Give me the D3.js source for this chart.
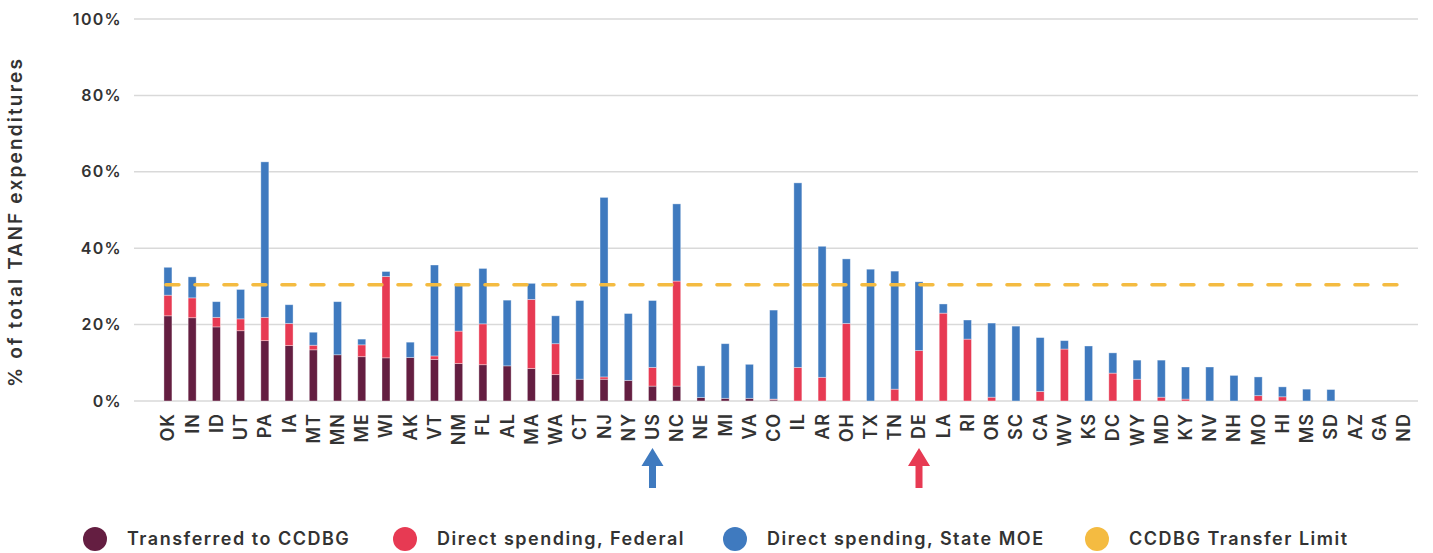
<!DOCTYPE html>
<html>
<head>
<meta charset="utf-8">
<script src="https://cdn.jsdelivr.net/npm/d3@7"></script>
<style>
  body { margin: 0; background: #fff; }
  svg { display: block; font-family: Inter, "Open Sans", sans-serif; }
</style>
</head>
<body>
<div id="chart"></div>
<script>
// categories, in chart order
var states = ["OK","IN","ID","UT","PA","IA","MT","MN","ME","WI","AK","VT","NM","FL","AL","MA","WA","CT","NJ","NY",
              "US","NC","NE","MI","VA","CO","IL","AR","OH","TX","TN","DE","LA","RI","OR","SC","CA","WV","KS","DC",
              "WY","MD","KY","NV","NH","MO","HI","MS","SD","AZ","GA","ND"];

// % of total TANF expenditures, per segment
var transferred = [22.3,21.8,19.4,18.4,15.8,14.5,13.4,12.1,11.6,11.3,11.4,10.9,9.8,9.5,9.2,8.5,6.9,5.7,5.7,5.4,
                   3.9,3.9,0.9,0.7,0.7,0.3,0,0,0,0,0,0,0,0,0,0,0,0,0,0,
                   0,0,0,0,0,0,0,0,0,0,0,0];
var federal = [5.4,5.2,2.5,3.1,6.1,5.8,1.2,0,3.1,21.3,0,0.9,8.5,10.7,0,18.1,8.1,0,0.6,0,
               4.9,27.5,0,0,0,0.2,8.8,6.2,20.3,0,3.1,13.2,23.0,16.2,1.0,0,2.5,13.6,0,7.3,
               5.7,1.0,0.5,0,0,1.4,1.1,0,0,0,0,0];
var stateMOE = [7.3,5.5,4.1,7.7,40.7,4.9,3.4,13.9,1.5,1.3,4.0,23.8,11.9,14.5,17.2,4.2,7.3,20.6,47.0,17.5,
                17.5,20.2,8.3,14.3,8.9,23.3,48.3,34.3,16.9,34.5,30.9,18.0,2.4,5.0,19.4,19.6,14.1,2.2,14.4,5.3,
                5.0,9.7,8.4,8.9,6.7,4.9,2.6,3.1,3.0,0,0,0];

var transferLimit = 30.4;
var yTicks = [0,20,40,60,80,100];
var seriesNames = ["Transferred to CCDBG","Direct spending, Federal","Direct spending, State MOE","CCDBG Transfer Limit"];
var seriesColors = ["#641e41","#e73a53","#3f7abf","#f4bb41"];
var arrowStates = ["US","DE"];
var arrowColors = ["#3f7abf","#e73a53"];

var width = 1433, height = 553;

var svg = d3.select("#chart").append("svg")
    .attr("width", width)
    .attr("height", height);

var rows = states.map(function(s, i){
    return {state: s, t: transferred[i], f: federal[i], m: stateMOE[i]};
});

var x = d3.scaleBand()
    .domain(states)
    .range([147.7, 1423.8])
    .padding(0.67);

var y = d3.scaleLinear()
    .domain([0, 100])
    .range([401, 19]);

// gridlines
svg.append("g").selectAll("line")
    .data(yTicks).enter().append("line")
    .attr("x1", 134).attr("x2", 1418)
    .attr("y1", function(d){ return y(d); })
    .attr("y2", function(d){ return y(d); })
    .attr("stroke", "#d9d9d9")
    .attr("stroke-width", 1.5);

// y tick labels
svg.append("g").selectAll("text")
    .data(yTicks).enter().append("text")
    .attr("x", 122)
    .attr("y", function(d){ return y(d); })
    .attr("dy", "0.35em")
    .attr("text-anchor", "end")
    .style("font-size", "16px")
    .style("font-weight", 600)
    .style("letter-spacing", "1.3px")
    .style("fill", "#333")
    .text(function(d){ return d + "%"; });

// y axis title
svg.append("text")
    .attr("transform", "translate(22,222) rotate(-90)")
    .attr("text-anchor", "middle")
    .style("font-size", "19px")
    .style("font-weight", 600)
    .style("letter-spacing", "2.2px")
    .style("fill", "#333")
    .text("% of total TANF expenditures");

// stacked bars
var stack = d3.stack().keys(["t","f","m"]);
var series = stack(rows);

var groups = svg.selectAll(".gbars")
    .data(series).enter().append("g")
    .attr("class", "gbars")
    .attr("fill", function(d, i){ return seriesColors[i]; });

groups.selectAll("rect")
    .data(function(d){ return d.filter(function(p){ return p[1] - p[0] > 0; }); })
    .enter().append("rect")
    .attr("x", function(d){ return x(d.data.state); })
    .attr("y", function(d){ return y(d[1]); })
    .attr("width", x.bandwidth())
    .attr("height", function(d){ return y(d[0]) - y(d[1]); })
    .attr("stroke", "rgba(255,255,255,0.45)")
    .attr("stroke-width", 0.8);

// transfer limit line
svg.append("line")
    .attr("x1", x(states[0]) + x.bandwidth() / 2 - 2)
    .attr("x2", x(states[states.length - 1]) + x.bandwidth() / 2)
    .attr("y1", y(transferLimit))
    .attr("y2", y(transferLimit))
    .attr("stroke", seriesColors[3])
    .attr("stroke-width", 3.5)
    .attr("stroke-linecap", "round")
    .attr("stroke-dasharray", "13,16");

// x labels
svg.append("g").selectAll("text")
    .data(states).enter().append("text")
    .attr("transform", function(d){
        return "translate(" + (x(d) + x.bandwidth() / 2) + ",413) rotate(-90)";
    })
    .attr("dy", "0.36em")
    .attr("text-anchor", "end")
    .style("font-size", "18px")
    .style("font-weight", 600)
    .style("letter-spacing", "1px")
    .style("fill", "#333")
    .text(function(d){ return d; });

// arrows
svg.append("g").selectAll("path")
    .data(arrowStates).enter().append("path")
    .attr("d", function(d){
        var cx = x(d) + x.bandwidth() / 2;
        return "M" + cx + ",448 L" + (cx + 11) + ",466 L" + (cx + 3.5) + ",466 L" + (cx + 3.5) + ",488 L" +
               (cx - 3.5) + ",488 L" + (cx - 3.5) + ",466 L" + (cx - 11) + ",466 Z";
    })
    .attr("fill", function(d, i){ return arrowColors[i]; });

// legend
var legendX = [95, 405, 735, 1097];
var legend = svg.append("g").selectAll("g")
    .data(seriesNames).enter().append("g")
    .attr("transform", function(d, i){ return "translate(" + legendX[i] + ",539)"; });

legend.append("circle")
    .attr("r", 12)
    .attr("fill", function(d, i){ return seriesColors[i]; });

legend.append("text")
    .attr("x", 32)
    .attr("dy", "0.35em")
    .style("font-size", "18px")
    .style("font-weight", 600)
    .style("letter-spacing", "1.5px")
    .style("fill", "#333")
    .text(function(d){ return d; });
</script>
</body>
</html>
